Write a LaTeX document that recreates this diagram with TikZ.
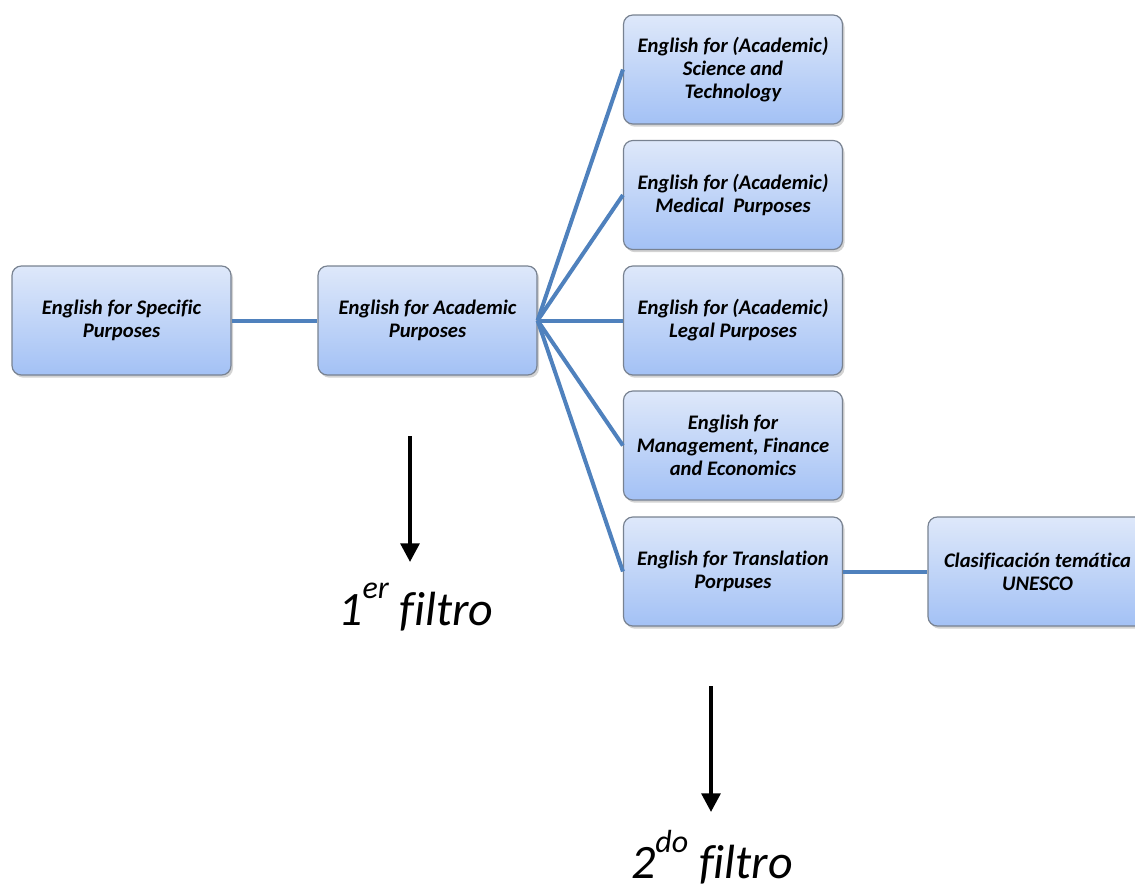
\documentclass[tikz,border=0pt]{standalone}
\usepackage{fontspec}
\setmainfont[Ligatures=NoCommon]{Carlito}
\usetikzlibrary{shadows,arrows.meta}
\definecolor{linkblue}{RGB}{79,129,189}
\definecolor{boxtop}{RGB}{222,232,250}
\definecolor{boxbot}{RGB}{163,193,245}
\definecolor{boxedge}{RGB}{120,130,145}
\tikzset{
  box/.style={draw=boxedge, line width=0.9pt, rounded corners=7pt,
    top color=boxtop, bottom color=boxbot,
    minimum width=219*0.75pt, minimum height=109*0.75pt,
    align=center, inner sep=0pt,
    font=\fontsize{15.5}{17.3}\selectfont\bfseries\itshape,
    drop shadow={shadow xshift=1.5pt, shadow yshift=-2pt, opacity=0.35}},
  link/.style={draw=linkblue, line width=3pt},
  filterarrow/.style={draw=black, line width=3pt, -{Triangle[length=14pt,width=14pt]}},
  filterlabel/.style={font=\fontsize{36}{40}\selectfont\itshape, inner sep=0pt}
}
\newcommand{\filtsup}[1]{\raisebox{0.55em}{\fontsize{24}{26}\selectfont #1}}
\begin{document}
\begin{tikzpicture}[x=0.75pt,y=-0.75pt]
\useasboundingbox (0,0) rectangle (1135,890);
\clip (0,0) rectangle (1135,890);
\node[box] (esp) at (121.5,320.5) {English for Specific\\Purposes};
\node[box] (eap) at (427.5,320.5) {English for Academic\\Purposes};
\node[box] (sci) at (733,69.5) {English for (Academic)\\Science and\\Technology};
\node[box] (med) at (733,195) {English for (Academic)\\Medical\ \ Purposes};
\node[box] (leg) at (733,320.5) {English for (Academic)\\Legal Purposes};
\node[box] (man) at (733,445.5) {English for\\Management, Finance\\and Economics};
\node[box] (tra) at (733,571.5) {English for Translation\\Porpuses};
\node[box] (une) at (1037.5,571.5) {Clasificación temática\\UNESCO};
\draw[link] (esp.east) -- (eap.west);
\foreach \t in {sci,med,leg,man,tra}
  \draw[link] (eap.east) -- (\t.west);
\draw[link] (tra.east) -- (une.west);
\coordinate (a1s) at (410,436);
\coordinate (a1e) at (410,562);
\coordinate (a2s) at (711,686);
\coordinate (a2e) at (711,812);
\draw[filterarrow] (a1s) -- (a1e);
\draw[filterarrow] (a2s) -- (a2e);
\node[filterlabel] (f1) at (416,607) {1\filtsup{er} filtro};
\node[filterlabel] (f2) at (712,857) {2\filtsup{do} filtro};
\end{tikzpicture}
\end{document}
